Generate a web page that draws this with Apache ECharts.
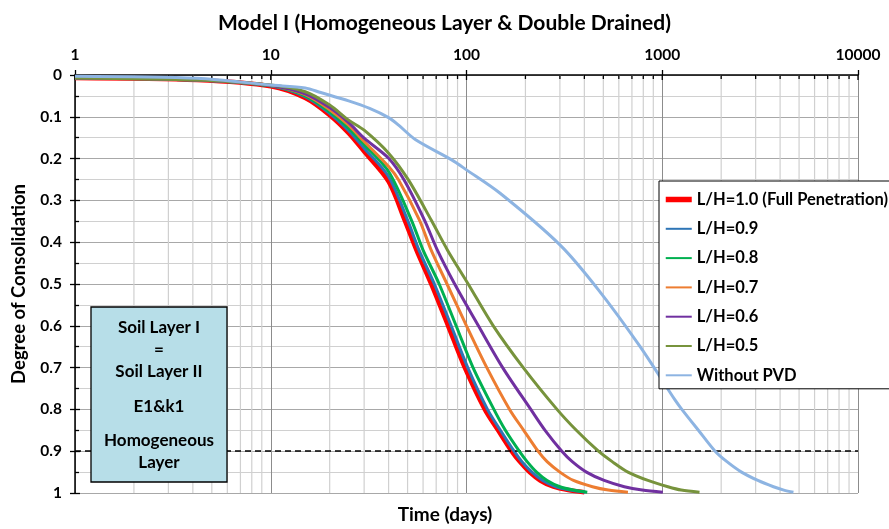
<!DOCTYPE html>
<html>
<head>
<meta charset="utf-8">
<script src="https://cdn.jsdelivr.net/npm/echarts@6/dist/echarts.min.js"></script>
<style>
  html, body { margin: 0; padding: 0; background: #ffffff; }
  #chart { width: 889px; height: 529px; }
</style>
</head>
<body>
<div id="chart"></div>
<script>
// Time (days) and degree of consolidation for each drain penetration ratio
const tLH10 = [1, 4.2, 10, 15, 20, 25, 30, 40, 48.3, 55.5, 66, 80.5, 98, 124, 145, 170, 187, 210, 238, 278, 330, 400];
const uLH10 = [0.007, 0.012, 0.027, 0.055, 0.096, 0.139, 0.183, 0.255, 0.347, 0.419, 0.5, 0.6, 0.7, 0.8, 0.85, 0.9, 0.925, 0.95, 0.97, 0.985, 0.993, 0.998];

const tLH09 = [1, 4.2, 10, 15, 20, 25, 30, 40, 50, 57.2, 68.5, 83.5, 101.5, 128, 149, 175, 192, 216, 245, 286, 340, 405];
const uLH09 = [0.007, 0.012, 0.026, 0.052, 0.092, 0.133, 0.175, 0.243, 0.347, 0.419, 0.5, 0.6, 0.7, 0.8, 0.85, 0.9, 0.925, 0.95, 0.97, 0.985, 0.993, 0.998];

const tLH08 = [1, 4.2, 10, 15, 20, 25, 30, 40, 52.3, 60, 72.5, 88.5, 108, 138, 158, 186, 204, 228, 258, 300, 352, 414];
const uLH08 = [0.007, 0.012, 0.026, 0.05, 0.088, 0.127, 0.166, 0.231, 0.347, 0.419, 0.5, 0.6, 0.7, 0.8, 0.85, 0.9, 0.925, 0.95, 0.97, 0.985, 0.993, 0.998];

const tLH07 = [1, 4.2, 10, 15, 20, 25, 30, 40, 45, 57.5, 66, 79.5, 100, 127, 166, 196, 232, 258, 300, 352, 440, 530, 668];
const uLH07 = [0.007, 0.012, 0.025, 0.047, 0.083, 0.12, 0.159, 0.219, 0.251, 0.347, 0.419, 0.5, 0.6, 0.7, 0.8, 0.85, 0.9, 0.925, 0.95, 0.97, 0.985, 0.993, 0.998];

const tLH06 = [1, 4.2, 10, 15, 20, 25, 30, 40, 48, 61, 71, 87, 115, 153, 213, 252, 307, 347, 410, 505, 640, 790, 1007];
const uLH06 = [0.007, 0.012, 0.025, 0.045, 0.078, 0.114, 0.151, 0.199, 0.251, 0.347, 0.419, 0.5, 0.6, 0.7, 0.8, 0.85, 0.9, 0.925, 0.95, 0.97, 0.985, 0.993, 0.998];

const tLH05 = [1, 4.2, 10, 15, 20, 25, 30, 40, 50.5, 66, 80, 102, 137, 195, 290, 364, 472, 555, 668, 845, 1069, 1250, 1550];
const uLH05 = [0.007, 0.012, 0.024, 0.04, 0.072, 0.108, 0.132, 0.187, 0.251, 0.347, 0.419, 0.5, 0.6, 0.7, 0.8, 0.85, 0.9, 0.925, 0.95, 0.97, 0.985, 0.993, 0.998];

const tNoPVD = [1, 4.2, 10, 15, 18, 25, 32, 40, 45, 55, 84, 100, 148.5, 301, 472, 771, 1164, 1259, 1530, 1862, 2140, 2540, 3080, 3700, 4180, 4680];
const uNoPVD = [0.003, 0.008, 0.024, 0.031, 0.042, 0.062, 0.08, 0.102, 0.12, 0.155, 0.203, 0.227, 0.283, 0.407, 0.514, 0.65, 0.778, 0.8, 0.85, 0.9, 0.925, 0.95, 0.97, 0.985, 0.993, 0.998];

const seriesNames = ['L/H=1.0 (Full Penetration)', 'L/H=0.9', 'L/H=0.8', 'L/H=0.7', 'L/H=0.6', 'L/H=0.5', 'Without PVD'];
const seriesTimes = [tLH10, tLH09, tLH08, tLH07, tLH06, tLH05, tNoPVD];
const seriesDegrees = [uLH10, uLH09, uLH08, uLH07, uLH06, uLH05, uNoPVD];

// Target degree of consolidation shown as a reference line
const targetDegree = 0.9;

// Decade labels of the time axis and the in-between minor grid values
const timeTickLabels = ['1', '10', '100', '1000', '10000'];
const majorTimes = timeTickLabels.map(Number);
const minorTimes = [];
for (let d = 0; d < majorTimes.length - 1; d++) {
  for (let k = 2; k <= 9; k++) minorTimes.push(k * majorTimes[d]);
}

// Text of the soil description box
const boxLines = ['Soil Layer I', '=', 'Soil Layer II', 'E1&k1', 'Homogeneous', 'Layer'];

const FONT = 'Lato, "Open Sans", sans-serif';
const colors = ['#FF0000', '#2E75B6', '#00B050', '#ED7D31', '#7030A0', '#77933C', '#8DB4E2'];
const widths = [4.5, 3, 3, 3, 3, 3, 3];

const chart = echarts.init(document.getElementById('chart'), null, { renderer: 'canvas' });

const curveSeries = seriesNames.map((name, i) => ({
  name: name,
  type: 'line',
  xAxisIndex: 0,
  yAxisIndex: 0,
  data: seriesTimes[i].map((t, j) => [t, seriesDegrees[i][j]]),
  symbol: 'none',
  smooth: 0.3,
  lineStyle: { color: colors[i], width: widths[i] },
  itemStyle: { color: colors[i] },
  z: 3 + i,
  silent: true,
  animation: false
}));

// Minor vertical grid lines plus the inward tick marks on the top axis
const gridSeries = {
  name: 'timeGrid',
  type: 'custom',
  xAxisIndex: 0,
  yAxisIndex: 0,
  silent: true,
  animation: false,
  z: 1,
  data: majorTimes.concat(minorTimes).map(v => [v, 0]),
  renderItem: function (params, api) {
    const v = api.value(0);
    const isMajor = majorTimes.indexOf(v) >= 0;
    const top = api.coord([v, 0]);
    const bottom = api.coord([v, 1]);
    const children = [];
    if (!isMajor) {
      children.push({
        type: 'line',
        shape: { x1: top[0], y1: top[1], x2: bottom[0], y2: bottom[1] },
        style: { stroke: '#d0d0d0', lineWidth: 1.2 }
      });
    }
    children.push({
      type: 'line',
      shape: { x1: top[0], y1: top[1], x2: top[0], y2: top[1] + (isMajor ? 5 : 4) },
      style: { stroke: '#000000', lineWidth: 1.3 }
    });
    return { type: 'group', children: children };
  }
};

// Dashed reference line at the target degree of consolidation
const targetSeries = {
  name: 'target',
  type: 'line',
  data: [],
  silent: true,
  animation: false,
  z: 12,
  markLine: {
    silent: true,
    symbol: ['none', 'none'],
    label: { show: false },
    animation: false,
    lineStyle: { color: '#000000', width: 1.5, type: [6, 4] },
    data: [{ yAxis: targetDegree }]
  }
};

const boxCenterX = 159;
const boxTextY = [328, 350, 372, 407, 441, 463];

const option = {
  backgroundColor: '#ffffff',
  animation: false,
  title: {
    text: 'Model I (Homogeneous Layer & Double Drained)',
    left: 'center',
    top: 8,
    textStyle: { fontFamily: FONT, fontSize: 21, fontWeight: 'bold', color: '#000000' }
  },
  grid: { left: 75, right: 31, top: 75, bottom: 36, containLabel: false },
  legend: {
    data: seriesNames.map((n, i) => (i === 0 ? { name: n, lineStyle: { width: 5.5 } } : { name: n })),
    orient: 'vertical',
    left: 659,
    top: 181,
    padding: [10, 6, 5, 4],
    itemWidth: 26,
    itemHeight: 16,
    itemGap: 12.3,
    backgroundColor: '#ffffff',
    borderColor: '#000000',
    borderWidth: 1,
    borderRadius: 0,
    itemStyle: { color: 'rgba(0,0,0,0)', borderColor: 'rgba(0,0,0,0)', borderWidth: 0 },
    textStyle: { fontFamily: FONT, fontSize: 16.5, fontWeight: 'bold', color: '#000000', lineHeight: 16 },
    z: 20,
    selectedMode: false
  },
  xAxis: [{
    type: 'log',
    logBase: 10,
    position: 'top',
    min: 1,
    max: 10000,
    splitNumber: 4,
    axisLine: { show: true, onZero: false, lineStyle: { color: '#000000', width: 1.5 } },
    axisTick: { show: true, length: 5, lineStyle: { color: '#000000', width: 1.3 } },
    axisLabel: {
      show: true,
      margin: 12,
      fontFamily: FONT, fontSize: 15.5, fontWeight: 'bold', color: '#000000',
      showMinLabel: true, showMaxLabel: true,
      formatter: function (v) {
        const idx = majorTimes.indexOf(Math.round(v));
        return idx >= 0 ? timeTickLabels[idx] : '';
      }
    },
    splitLine: { show: true, lineStyle: { color: '#8c8c8c', width: 1 } }
  }],
  yAxis: [{
    type: 'value',
    inverse: true,
    min: 0,
    max: 1,
    interval: 0.1,
    name: 'Degree of Consolidation',
    nameLocation: 'middle',
    nameGap: 46,
    nameRotate: 90,
    nameTextStyle: { fontFamily: FONT, fontSize: 18.5, fontWeight: 'bold', color: '#000000' },
    axisLine: { show: true, onZero: false, lineStyle: { color: '#000000', width: 1.5 } },
    axisTick: { show: true, length: 5, lineStyle: { color: '#000000', width: 1.3 } },
    axisLabel: {
      margin: 13,
      fontFamily: FONT, fontSize: 15.5, fontWeight: 'bold', color: '#000000',
      showMinLabel: true, showMaxLabel: true
    },
    splitLine: { show: true, lineStyle: { color: '#a8a8a8', width: 1 } },
    minorTick: { show: false, splitNumber: 2 },
    minorSplitLine: { show: true, lineStyle: { color: '#d0d0d0', width: 1 } }
  }, {
    // companion axis that carries the inward tick marks
    type: 'value',
    inverse: true,
    min: 0,
    max: 1,
    interval: 0.1,
    position: 'left',
    axisLine: { show: false },
    axisTick: { show: true, inside: true, length: 5, lineStyle: { color: '#000000', width: 1.3 } },
    minorTick: { show: true, splitNumber: 2, length: 4, lineStyle: { color: '#000000', width: 1.3 } },
    axisLabel: { show: false },
    splitLine: { show: false },
    minorSplitLine: { show: false }
  }],
  graphic: [
    {
      type: 'text',
      x: 445,
      y: 515,
      style: {
        text: 'Time (days)',
        align: 'center',
        verticalAlign: 'middle',
        fontFamily: FONT, fontSize: 19, fontWeight: 'bold', fill: '#000000'
      },
      z: 30
    },
    {
      type: 'rect',
      shape: { x: 91, y: 307, width: 136, height: 175 },
      style: { fill: '#B7DEE8', stroke: '#000000', lineWidth: 1.3 },
      z: 30
    }
  ].concat(boxLines.map((txt, i) => ({
    type: 'text',
    x: boxCenterX,
    y: boxTextY[i],
    style: {
      text: txt,
      align: 'center',
      verticalAlign: 'middle',
      fontFamily: FONT, fontSize: 17, fontWeight: 'bold', fill: '#000000'
    },
    z: 31
  }))),
  series: [gridSeries].concat(curveSeries, [targetSeries])
};

chart.setOption(option);
</script>
</body>
</html>
